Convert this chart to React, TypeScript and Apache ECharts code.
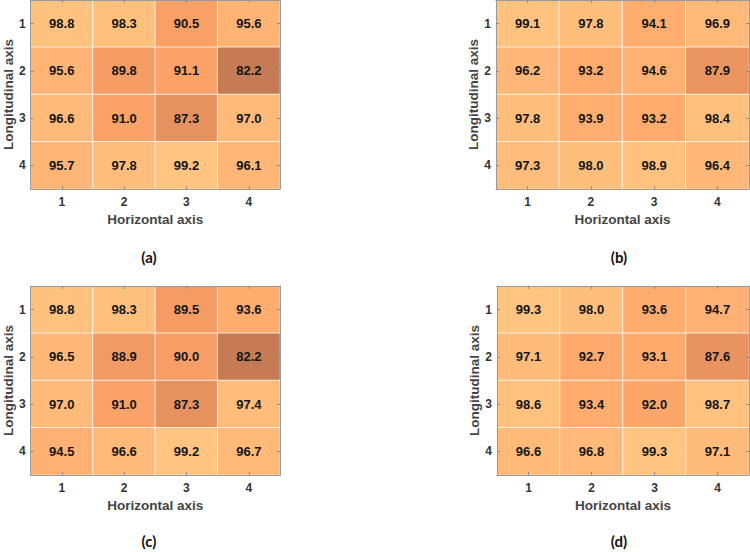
import React, { useEffect, useRef } from "react";
import * as echarts from "echarts";

// Axis categories (1..4 on both axes)
const horizontalTicks = ["1", "2", "3", "4"];
const longitudinalTicks = ["1", "2", "3", "4"];

// Values per panel: rows = longitudinal 1..4, columns = horizontal 1..4
const panelA = [
  [98.8, 98.3, 90.5, 95.6],
  [95.6, 89.8, 91.1, 82.2],
  [96.6, 91.0, 87.3, 97.0],
  [95.7, 97.8, 99.2, 96.1],
];
const panelB = [
  [99.1, 97.8, 94.1, 96.9],
  [96.2, 93.2, 94.6, 87.9],
  [97.8, 93.9, 93.2, 98.4],
  [97.3, 98.0, 98.9, 96.4],
];
const panelC = [
  [98.8, 98.3, 89.5, 93.6],
  [96.5, 88.9, 90.0, 82.2],
  [97.0, 91.0, 87.3, 97.4],
  [94.5, 96.6, 99.2, 96.7],
];
const panelD = [
  [99.3, 98.0, 93.6, 94.7],
  [97.1, 92.7, 93.1, 87.6],
  [98.6, 93.4, 92.0, 98.7],
  [96.6, 96.8, 99.3, 97.1],
];
const panelTags = ["(a)", "(b)", "(c)", "(d)"];
const xAxisTitle = "Horizontal axis";
const yAxisTitle = "Longitudinal axis";

const FONT = "'Liberation Sans', Arial, sans-serif";

export default function App() {
  const ref = useRef<HTMLDivElement>(null);

  useEffect(() => {
    if (!ref.current) return;
    const chart = echarts.init(ref.current, undefined, { renderer: "svg" });

    const panels = [panelA, panelB, panelC, panelD];
    const boxes = [
      { left: 27, top: 0, width: 253, height: 189 },
      { left: 496, top: 0, width: 253, height: 189 },
      { left: 27, top: 286, width: 253, height: 189 },
      { left: 497, top: 286, width: 252, height: 189 },
    ];
    const tagPos = [
      { x: 149, y: 257 },
      { x: 619, y: 257 },
      { x: 149, y: 541 },
      { x: 619, y: 541 },
    ];

    const frameLine = { show: true, lineStyle: { color: "#9a9a9a", width: 1 } };
    const innerTick = {
      show: true,
      inside: true,
      length: 3,
      alignWithLabel: true,
      lineStyle: { color: "#8a8a8a", width: 1 },
    };

    const grid: any[] = [];
    const xAxis: any[] = [];
    const yAxis: any[] = [];
    const series: any[] = [];

    panels.forEach((values, i) => {
      grid.push({ ...boxes[i], containLabel: false });
      // bottom axis with labels and title
      xAxis.push({
        type: "category",
        gridIndex: i,
        data: horizontalTicks,
        position: "bottom",
        z: 5,
        axisLine: frameLine,
        axisTick: innerTick,
        axisLabel: {
          margin: 7,
          fontFamily: FONT,
          fontWeight: "bold",
          fontSize: 12,
          color: "#333333",
        },
        splitLine: { show: false },
        name: xAxisTitle,
        nameLocation: "middle",
        nameGap: 23,
        nameTextStyle: {
          fontFamily: FONT,
          fontWeight: "bold",
          fontSize: 13.5,
          color: "#444444",
        },
      });
      // top frame edge
      xAxis.push({
        type: "category",
        gridIndex: i,
        data: horizontalTicks,
        position: "top",
        z: 5,
        axisLine: frameLine,
        axisTick: innerTick,
        axisLabel: { show: false },
        splitLine: { show: false },
      });
      // left axis with labels and title
      yAxis.push({
        type: "category",
        gridIndex: i,
        data: longitudinalTicks,
        inverse: true,
        position: "left",
        z: 5,
        axisLine: frameLine,
        axisTick: innerTick,
        axisLabel: {
          margin: 5,
          fontFamily: FONT,
          fontWeight: "bold",
          fontSize: 12,
          color: "#333333",
        },
        splitLine: { show: false },
        name: yAxisTitle,
        nameLocation: "middle",
        nameGap: 14,
        nameTextStyle: {
          fontFamily: FONT,
          fontWeight: "bold",
          fontSize: 13.5,
          color: "#444444",
        },
      });
      // right frame edge
      yAxis.push({
        type: "category",
        gridIndex: i,
        data: longitudinalTicks,
        inverse: true,
        position: "right",
        z: 5,
        axisLine: frameLine,
        axisTick: innerTick,
        axisLabel: { show: false },
        splitLine: { show: false },
      });

      const data: number[][] = [];
      values.forEach((row, r) => {
        row.forEach((v, c) => data.push([c, r, v]));
      });

      series.push({
        type: "heatmap",
        xAxisIndex: i * 2,
        yAxisIndex: i * 2,
        data,
        itemStyle: { borderColor: "rgba(255,255,255,0.75)", borderWidth: 1 },
        label: {
          show: true,
          fontFamily: FONT,
          fontWeight: "bold",
          fontSize: 13,
          color: "#151515",
          formatter: (p: any) => Number(p.value[2]).toFixed(1),
        },
        emphasis: { disabled: true },
      });
    });

    chart.setOption({
      animation: false,
      backgroundColor: "#ffffff",
      grid,
      xAxis,
      yAxis,
      visualMap: {
        show: false,
        type: "continuous",
        min: 82,
        max: 99.5,
        calculable: false,
        inRange: {
          color: ["#C47A52", "#D98A5B", "#F39A63", "#FFA86B", "#FFB677", "#FFC580"],
        },
      },
      series,
      graphic: panelTags.map((t, i) => ({
        type: "text",
        x: tagPos[i].x,
        y: tagPos[i].y,
        style: {
          text: t,
          fontFamily: "Lato, 'Open Sans', sans-serif",
          fontWeight: "bold",
          fontSize: 15,
          fill: "#111111",
          align: "center",
          verticalAlign: "middle",
        },
      })),
    });

    return () => chart.dispose();
  }, []);

  return (
    <div
      ref={ref}
      style={{ position: "fixed", left: 0, top: 0, width: 750, height: 552 }}
    />
  );
}
